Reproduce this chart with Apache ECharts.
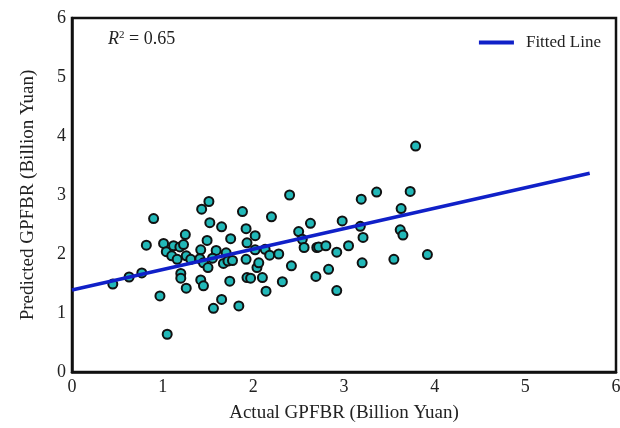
<!DOCTYPE html>
<html>
<head>
<meta charset="utf-8">
<script src="https://cdn.jsdelivr.net/npm/echarts@6/dist/echarts.min.js"></script>
<style>
  html, body { margin: 0; padding: 0; background: #fff; }
  #chart { width: 620px; height: 428px; }
</style>
</head>
<body>
<div id="chart"></div>
<script>
  // actual vs predicted (billion yuan)
  var actual = [
    0.45, 0.63, 0.77, 0.82, 0.90, 0.97, 1.05, 1.01, 1.04, 1.12,
    1.10, 1.16, 1.19, 1.23, 1.25, 1.20, 1.20, 1.26, 1.26, 1.31,
    1.42, 1.41, 1.43, 1.51, 1.52, 1.49, 1.45, 1.50, 1.42, 1.45,
    1.56, 1.65, 1.59, 1.55, 1.65, 1.70, 1.67, 1.72, 1.77, 1.75,
    1.74, 1.84, 1.88, 1.92, 1.93, 1.92, 1.93, 1.97, 2.02, 2.02,
    2.04, 2.06, 2.10, 2.14, 2.13, 2.18, 2.20, 2.28, 2.32, 2.40,
    2.42, 2.50, 2.54, 2.56, 2.63, 2.69, 2.70, 2.72, 2.80, 2.83,
    2.92, 2.92, 2.98, 3.05, 3.18, 3.19, 3.21, 3.20, 3.36, 3.55,
    3.63, 3.62, 3.65, 3.73, 3.92, 3.79
  ];
  var predicted = [
    1.49, 1.61, 1.68, 2.15, 2.60, 1.29, 0.64, 2.18, 2.04, 2.14,
    1.97, 1.91, 2.12, 2.16, 2.33, 1.67, 1.59, 1.42, 1.97, 1.91,
    2.07, 1.92, 2.76, 2.89, 2.53, 2.23, 1.85, 1.77, 1.56, 1.46,
    1.08, 1.23, 2.06, 1.93, 2.46, 2.02, 1.84, 1.88, 1.89, 2.26,
    1.54, 1.12, 2.72, 2.43, 2.19, 1.91, 1.60, 1.59, 2.31, 2.07,
    1.77, 1.85, 1.60, 1.37, 2.08, 1.98, 2.63, 2.00, 1.53, 3.00,
    1.80, 2.38, 2.25, 2.11, 2.52, 1.62, 2.11, 2.12, 2.14, 1.74,
    2.03, 1.38, 2.56, 2.14, 2.47, 2.93, 2.28, 1.85, 3.05, 1.91,
    2.77, 2.41, 2.32, 3.06, 1.99, 3.83
  ];
  // fitted line end points
  var fitX = [0, 5.71];
  var fitY = [1.39, 3.37];
  var ticks = [0, 1, 2, 3, 4, 5, 6];

  var points = [];
  for (var i = 0; i < actual.length; i++) {
    points.push([actual[i], predicted[i]]);
  }
  var fitLine = [];
  for (var j = 0; j < fitX.length; j++) {
    fitLine.push([fitX[j], fitY[j]]);
  }

  var serif = 'Liberation Serif';
  var axisLabel = { fontFamily: serif, fontSize: 18, color: '#222', margin: 6 };

  var myChart = echarts.init(document.getElementById('chart'));
  var option = {
    animation: false,
    grid: {
      left: 72, top: 18, right: 4, bottom: 56,
      outerBoundsMode: 'none', containLabel: false,
      show: true, borderColor: '#111', borderWidth: 2.5, backgroundColor: '#fff'
    },
    xAxis: {
      type: 'value', min: ticks[0], max: ticks[ticks.length - 1], interval: 1,
      name: 'Actual GPFBR (Billion Yuan)', nameLocation: 'middle', nameGap: 32,
      nameTextStyle: { fontFamily: serif, fontSize: 19, color: '#222' },
      axisLine: { lineStyle: { color: '#111', width: 2.5 } },
      axisTick: { show: false },
      splitLine: { show: false },
      axisLabel: axisLabel
    },
    yAxis: {
      type: 'value', min: ticks[0], max: ticks[ticks.length - 1], interval: 1,
      name: 'Predicted GPFBR (Billion Yuan)', nameLocation: 'middle', nameGap: 34,
      nameTextStyle: { fontFamily: serif, fontSize: 19, color: '#222' },
      axisLine: { lineStyle: { color: '#111', width: 2.5 } },
      axisTick: { show: false },
      splitLine: { show: false },
      axisLabel: axisLabel
    },
    legend: {
      data: [{ name: 'Fitted Line', icon: 'rect' }],
      right: 14, top: 29,
      itemWidth: 35, itemHeight: 4,
      textStyle: { fontFamily: serif, fontSize: 17, color: '#222', padding: [0, 0, 0, 7] }
    },
    graphic: [{
      type: 'text', left: 108, top: 30,
      style: {
        text: '{i|R}{s|2} = 0.65',
        rich: {
          i: { fontFamily: serif, fontStyle: 'italic', fontSize: 18, fill: '#222' },
          s: { fontFamily: serif, fontSize: 11, fill: '#222', verticalAlign: 'top', padding: [0, 0, 8, 0] }
        },
        font: '18px Liberation Serif', fill: '#222'
      }
    }],
    series: [{
      name: 'Data',
      type: 'scatter',
      data: points,
      symbolSize: 9,
      itemStyle: { color: '#22b8b8', borderColor: '#111', borderWidth: 2, opacity: 1 },
      z: 3
    }, {
      name: 'Fitted Line',
      type: 'line',
      data: fitLine,
      symbol: 'none',
      lineStyle: { color: '#1020c8', width: 3.5 },
      itemStyle: { color: '#1020c8' },
      z: 4
    }]
  };
  myChart.setOption(option);
</script>
</body>
</html>
